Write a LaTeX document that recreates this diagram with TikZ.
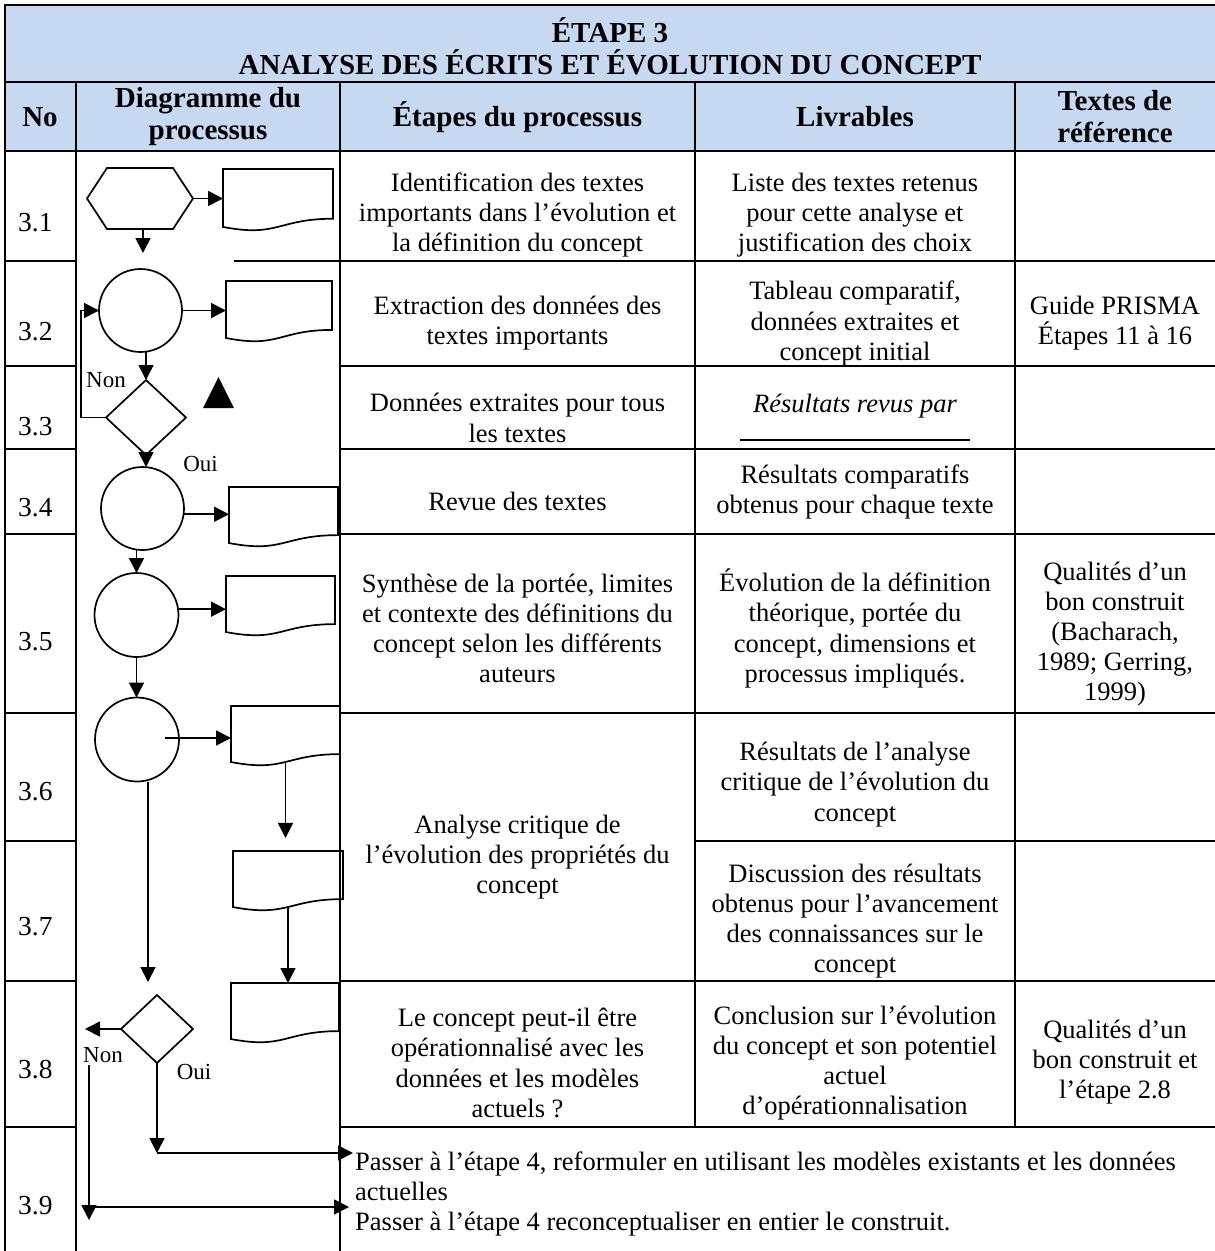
\documentclass[tikz,border=0pt]{standalone}
\usepackage{fontspec}
\setmainfont{Liberation Serif}
\usetikzlibrary{shapes.geometric,arrows.meta,calc}
\definecolor{headblue}{HTML}{C6D9F1}

% document flowchart symbol: name, left, top, width, height
\newcommand\flowdoc[5]{%
  \node[frame, minimum width=#4pt, minimum height=#5pt, anchor=north west] (#1) at (#2,#3) {};
  \draw[ln] (#1.north west) -- (#1.north east) -- ($(#1.north east)+(0,0.802*#5)$)
    .. controls ($(#1.north)+(0,0.802*#5)$) and ($(#1.north)+(0,1.1075*#5)$) ..
    ($(#1.north west)+(0,0.934*#5)$) -- cycle;
  \coordinate (#1-b) at ($(#1.north)+(0,0.933*#5)$);
}

\begin{document}
\begin{tikzpicture}[x=1pt,y=-1pt,
  grid/.style={line width=2.4pt, line cap=rect},
  frame/.style={inner sep=0pt, outer sep=0pt},
  shp/.style={draw, line width=1.7pt, inner sep=0pt, outer sep=0pt},
  ln/.style={line width=1.7pt},
  arr/.style={line width=1.7pt, -{Triangle[length=15pt,width=15pt]}},
  body/.style={font=\fontsize{26.5}{30.2}\selectfont, align=center, inner sep=0pt},
  num/.style={font=\fontsize{27.5}{30}\selectfont, inner sep=0pt, anchor=west},
  head/.style={font=\fontsize{29}{32}\selectfont\bfseries, align=center, inner sep=0pt},
  lbl/.style={font=\fontsize{23}{26}\selectfont, inner sep=0pt},
]
\useasboundingbox (0,0) rectangle (1215,1251);

% ---------- table ----------
\fill[headblue] (5,5) rectangle (1215,151);
\draw[grid] (5,5) -- (1215,5);
\draw[grid] (5,82) -- (1215,82);
\draw[grid] (5,151) -- (1215,151);
\draw[grid] (5,261) -- (76,261) (235,261) -- (1215,261);
\foreach \yy in {366,449,534,713,981,1127}
  \draw[grid] (5,\yy) -- (76,\yy) (340,\yy) -- (1215,\yy);
\draw[grid] (5,841) -- (76,841) (695,841) -- (1215,841);
\draw[grid] (5,5) -- (5,1251);
\draw[grid] (76,82) -- (76,1251);
\draw[grid] (340,82) -- (340,1251);
\draw[grid] (695,82) -- (695,1127);
\draw[grid] (1015,82) -- (1015,1127);

% ---------- headings ----------
\node[head] (title) at (610,46) {ÉTAPE 3\\ANALYSE DES ÉCRITS ET ÉVOLUTION DU CONCEPT};
\node[head] (hno)  at (40,117)    {No};
\node[head] (hdia) at (208,117)   {Diagramme du\\processus};
\node[head] (heta) at (517.5,117) {Étapes du processus};
\node[head] (hliv) at (855,117)   {Livrables};
\node[head] (href) at (1115,117)  {Textes de\\référence};

% ---------- step numbers ----------
\node[num] (n31) at (18,222.5) {3.1};
\node[num] (n32) at (18,331.5) {3.2};
\node[num] (n33) at (18,426.5) {3.3};
\node[num] (n34) at (18,508)   {3.4};
\node[num] (n35) at (18,642)   {3.5};
\node[num] (n36) at (18,792)   {3.6};
\node[num] (n37) at (18,927)   {3.7};
\node[num] (n38) at (18,1070)  {3.8};
\node[num] (n39) at (18,1206)  {3.9};

% ---------- process steps ----------
\node[body] (e31) at (517.5,215) {Identification des textes\\importants dans l’évolution et\\la définition du concept};
\node[body] (e32) at (517.5,323.5) {Extraction des données des\\textes importants};
\node[body] (e33) at (517.5,418)   {Données extraites pour tous\\les textes};
\node[body] (e34) at (517.5,501)   {Revue des textes};
\node[body] (e35) at (517.5,628.5) {Synthèse de la portée, limites\\et contexte des définitions du\\concept selon les différents\\auteurs};
\node[body] (e36) at (517.5,857)   {Analyse critique de\\l’évolution des propriétés du\\concept};
\node[body] (e38) at (517.5,1063)  {Le concept peut-il être\\opérationnalisé avec les\\données et les modèles\\actuels ?};

% ---------- deliverables ----------
\node[body] (l31) at (855,215) {Liste des textes retenus\\pour cette analyse et\\justification des choix};
\node[body] (l32) at (855,323.5) {Tableau comparatif,\\données extraites et\\concept initial};
\node[body, font=\fontsize{26.5}{30.2}\selectfont\itshape] (l33) at (855,406) {Résultats revus par};
\draw[line width=1.2pt] (740,440) -- (970,440);
\node[body] (l34) at (855,492)   {Résultats comparatifs\\obtenus pour chaque texte};
\node[body] (l35) at (855,628.5) {Évolution de la définition\\théorique, portée du\\concept, dimensions et\\processus impliqués.};
\node[body] (l36) at (855,784.5) {Résultats de l’analyse\\critique de l’évolution du\\concept};
\node[body] (l37) at (855,921)   {Discussion des résultats\\obtenus pour l’avancement\\des connaissances sur le\\concept};
\node[body] (l38) at (855,1063)  {Conclusion sur l’évolution\\du concept et son potentiel\\actuel\\d’opérationnalisation};

% ---------- references ----------
\node[body] (r32) at (1115,323.5) {Guide PRISMA\\Étapes 11 à 16};
\node[body] (r35) at (1115,634)   {Qualités d’un\\bon construit\\(Bacharach,\\1989; Gerring,\\1999)};
\node[body] (r38) at (1115,1062)  {Qualités d’un\\bon construit et\\l’étape 2.8};

% ---------- final step ----------
\node[body, align=left, anchor=west] (p39) at (355,1194) {Passer à l’étape 4, reformuler en utilisant les modèles existants et les données\\actuelles\\Passer à l’étape 4 reconceptualiser en entier le construit.};

% ---------- flow diagram ----------
\node[frame, minimum width=106pt, minimum height=61pt] (hex) at (140,198.5) {};
\draw[ln] (hex.west) -- ($(hex.north west)+(20,0)$) -- ($(hex.north east)+(-20,0)$)
  -- (hex.east) -- ($(hex.south east)+(-20,0)$) -- ($(hex.south west)+(20,0)$) -- cycle;

\flowdoc{d1}{223}{169}{110}{62}
\flowdoc{d2}{226}{281}{106}{61}
\flowdoc{d4}{229}{487}{109}{60}
\flowdoc{d5}{226}{576}{109}{60}
\flowdoc{d6}{231}{706}{109}{60}
\flowdoc{d7}{233}{851}{110}{60}
\flowdoc{d8}{231}{983}{108}{60}

\node[shp, circle, minimum size=83pt] (c2) at (140.5,310.5) {};
\node[shp, circle, minimum size=83pt] (c4) at (142.5,508.5) {};
\node[shp, circle, minimum size=84pt] (c5) at (136.5,615) {};
\node[shp, circle, minimum size=84pt] (c6) at (137,739.5) {};

\node[shp, diamond, minimum width=80pt, minimum height=75pt] (q3) at (146,417.5) {};
\node[shp, diamond, minimum width=72pt, minimum height=68pt] (q8) at (157,1029) {};

\fill (203,408) -- (234,408) -- (218.5,377) -- cycle;

\node[lbl] (non1) at (106,380)    {Non};
\node[lbl] (oui1) at (200.5,464)  {Oui};
\node[lbl] (non2) at (103,1055)   {Non};
\node[lbl] (oui2) at (194,1071.5) {Oui};

% connectors
\coordinate (h-end) at (143,253);
\draw[arr] (hex.east) -- (hex.east -| d1.west);
\draw[arr] (hex.south -| h-end) -- (h-end);
\draw[arr] (c2.east) -- (c2.east -| d2.west);
\draw[arr] (c2.south -| q3.north) -- (q3.north);
\draw[arr] (q3.west) -- ++(-25,0) |- (c2.west);
\draw[arr] (q3.south) -- (q3.south |- c4.north);
\draw[arr] (c4.-8) -- (c4.-8 -| d4.west);
\draw[arr] (c4.south -| c5.north) -- (c5.north);
\draw[arr] (c5.8) -- (c5.8 -| d5.west);
\draw[arr] (c5.south) -- (c5.south |- c6.north);
\coordinate (c6-out) at ($(c6.center)+(28,-1.5)$);
\draw[arr] (c6-out) -- (c6-out -| d6.west);
\coordinate (c6-end) at (148,982);
\draw[arr] (c6.south -| c6-end) -- (c6-end);
\coordinate (d6-end) at ($(d6-b)+(0,76)$);
\draw[arr] (d6-b) -- (d6-end);
\draw[arr] (d7-b) -- (d7-b |- d8.north);
\coordinate (q8-no) at (85,1029);
\draw[arr] (q8.west) -- (q8-no);
\coordinate (oui-turn) at (157,1153);
\coordinate (oui-to) at (353,1153);
\draw[arr] (q8.south) -- (oui-turn);
\draw[arr] (oui-turn) -- (oui-to);
\coordinate (non-top) at (89,1065);
\coordinate (non-end) at (89,1220);
\coordinate (non-h) at (89,1207);
\coordinate (non-to) at (349,1207);
\draw[arr] (non-top) -- (non-end);
\draw[arr] (non-h) -- (non-to);
\end{tikzpicture}
\end{document}
